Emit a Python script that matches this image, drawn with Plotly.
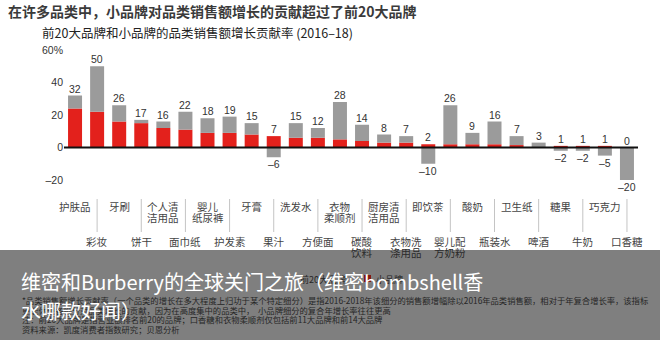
import plotly.graph_objects as go

# Category axis (two-line labels split into rows)
category_lines = [
    ["护肤品"], ["彩妆"], ["牙刷"], ["饼干"], ["个人清", "洁用品"], ["面巾纸"],
    ["婴儿", "纸尿裤"], ["护发素"], ["牙膏"], ["果汁"], ["洗发水"], ["方便面"],
    ["衣物", "柔顺剂"], ["碳酸", "饮料"], ["厨房清", "洁用品"], ["衣物洗", "涤用品"],
    ["即饮茶"], ["婴儿配", "方奶粉"], ["酸奶"], ["瓶装水"], ["卫生纸"], ["啤酒"],
    ["糖果"], ["牛奶"], ["巧克力"], ["口香糖"],
]
categories = ["".join(c) for c in category_lines]

# Contribution to category sales growth, 2016-18 (%)
top20_brands = [24, 22, 16, 15, 12, 11, 9, 9, 8, 7, 6, 6, 5, 4, 3, 3,
                2, 2, 2, 2, 1.5, 0, 1, 1, 1, 0]
small_brands = [8, 28, 10, 2, 4, 11, 9, 10, 7, -6, 9, 6, 23, 10, 5, 4,
                -10, 24, 7, 14, 5.5, 3, -2, -2, -5, -20]

y_ticks = [-20, 0, 20, 40, 60]
y_tick_text = ["–20", "0", "20", "40", "60%"]

title = "在许多品类中，小品牌对品类销售额增长的贡献超过了前20大品牌"
subtitle = "前20大品牌和小品牌的品类销售额增长贡献率 (2016–18)"
footnotes = [
    "*品类销售额增长贡献率（一个品类的增长在多大程度上归功于某个特定细分）是指2016-2018年该细分的销售额增幅除以2016年品类销售额，相对于年复合增长率，该指标",
    "更能体现各细分对品类增长的贡献，因为在高度集中的品类中，  小品牌细分的复合年增长率往往更高",
    "注：前20大品牌是指营业额排名前20的品牌；口香糖和衣物柔顺剂仅包括前11大品牌和前14大品牌",
    "资料来源：凯度消费者指数研究；贝恩分析",
]
caption_lines = ["维密和Burberry的全球关门之旅（维密bombshell香", "水哪款好闻）"]

RED = "#e3211c"
GRAY = "#9b9b9b"
FONT = "Liberation Sans, Arial, Noto Sans CJK SC, sans-serif"
CJK = "Noto Sans CJK SC, Liberation Sans, sans-serif"

W, H = 660, 340
ML, MR, MT, MB = 64, 22, 47, 153
PW, PH = W - ML - MR, H - MT - MB


def px(x):
    return (x - ML) / PW


def py(y):
    return (H - MB - y) / PH


n = len(categories)
xs = list(range(n))

fig = go.Figure()
fig.add_trace(go.Bar(x=xs, y=top20_brands, name="前20大品牌",
                     marker=dict(color=RED, line=dict(width=0))))
fig.add_trace(go.Bar(x=xs, y=small_brands, name="小品牌",
                     marker=dict(color=GRAY, line=dict(width=0))))

ann = []
shapes = []

# value labels: positive stack on top, negative stack below
for i in xs:
    pos = top20_brands[i] + max(small_brands[i], 0)
    neg = min(small_brands[i], 0)
    ann.append(dict(x=i, y=pos, xref="x", yref="y", text=f"{pos:g}",
                    showarrow=False, yanchor="bottom", yshift=-1,
                    font=dict(family=FONT, size=10.5, color="#333")))
    if neg < 0:
        ann.append(dict(x=i, y=neg, xref="x", yref="y",
                        text=f"–{abs(neg):g}", showarrow=False,
                        yanchor="top", yshift=1,
                        font=dict(family=FONT, size=10.5, color="#333")))

# staggered category labels
for i, lines in enumerate(category_lines):
    base = 206.5 if i % 2 == 0 else 241.5
    for k, line in enumerate(lines):
        ypix = base + 11 * k
        color = "#2b2b2b" if ypix > 250 else "#444"
        ann.append(dict(x=i, y=py(ypix), xref="x", yref="paper", text=line,
                        showarrow=False, yanchor="middle",
                        font=dict(family=CJK, size=10.5, color=color)))
    if i % 2 == 1:
        shapes.append(dict(type="line", xref="x", yref="paper", x0=i, x1=i,
                           y0=py(199), y1=py(232),
                           line=dict(color="#c4c4c4", width=1)))

# zero baseline
shapes.append(dict(type="line", xref="x", yref="y", x0=-0.56, x1=n - 0.42,
                   y0=0, y1=0, line=dict(color="#111", width=2), layer="above"))

# caption band across the bottom
shapes.append(dict(type="rect", xref="paper", yref="paper",
                   x0=px(0), x1=px(W), y0=py(250), y1=py(H + 2),
                   fillcolor="rgba(0,0,0,0.5)", line=dict(width=0),
                   layer="above"))
shapes.append(dict(type="rect", xref="paper", yref="paper",
                   x0=px(364), x1=px(371), y0=py(282), y1=py(275),
                   fillcolor="#86160f", line=dict(width=0), layer="above"))

ann.append(dict(x=px(6), y=py(11), xref="paper", yref="paper", text=f"<b>{title}</b>",
                showarrow=False, xanchor="left", yanchor="middle",
                font=dict(family=CJK, size=14, color="#3a3a3a")))
ann.append(dict(x=px(40), y=py(33), xref="paper", yref="paper", text=subtitle,
                showarrow=False, xanchor="left", yanchor="middle",
                font=dict(family=CJK, size=12.5, color="#222")))

# legend text beneath the caption band
ann.append(dict(x=px(298), y=py(279), xref="paper", yref="paper", text="前20大品牌",
                showarrow=False, xanchor="left", yanchor="middle",
                font=dict(family=CJK, size=9, color="#262626")))
ann.append(dict(x=px(374), y=py(279), xref="paper", yref="paper", text="小品牌",
                showarrow=False, xanchor="left", yanchor="middle",
                font=dict(family=CJK, size=9, color="#262626")))

for k, line in enumerate(footnotes):
    ann.append(dict(x=px(20), y=py(300 + 9.7 * k), xref="paper", yref="paper",
                    text=line, showarrow=False, xanchor="left", yanchor="middle",
                    font=dict(family=CJK, size=8.3, color="#262626")))

for k, line in enumerate(caption_lines):
    ann.append(dict(x=px(19), y=py(281 + 29.5 * k), xref="paper", yref="paper",
                    text=line, showarrow=False, xanchor="left", yanchor="middle",
                    font=dict(family=CJK, size=20, color="#ffffff")))

fig.update_layout(
    width=W, height=H,
    margin=dict(l=ML, r=MR, t=MT, b=MB, pad=0),
    barmode="relative", bargap=0.366,
    showlegend=False,
    paper_bgcolor="white", plot_bgcolor="white",
    xaxis=dict(range=[-0.5, n - 0.5], showticklabels=False, showgrid=False,
               zeroline=False, showline=False, ticks=""),
    yaxis=dict(range=[-24.31, 61.85], tickvals=y_ticks, ticktext=y_tick_text,
               showgrid=False, zeroline=False, showline=False, ticks="",
               tickfont=dict(family=FONT, size=10.5, color="#333")),
    annotations=ann, shapes=shapes,
)

fig.write_html("out.html")
